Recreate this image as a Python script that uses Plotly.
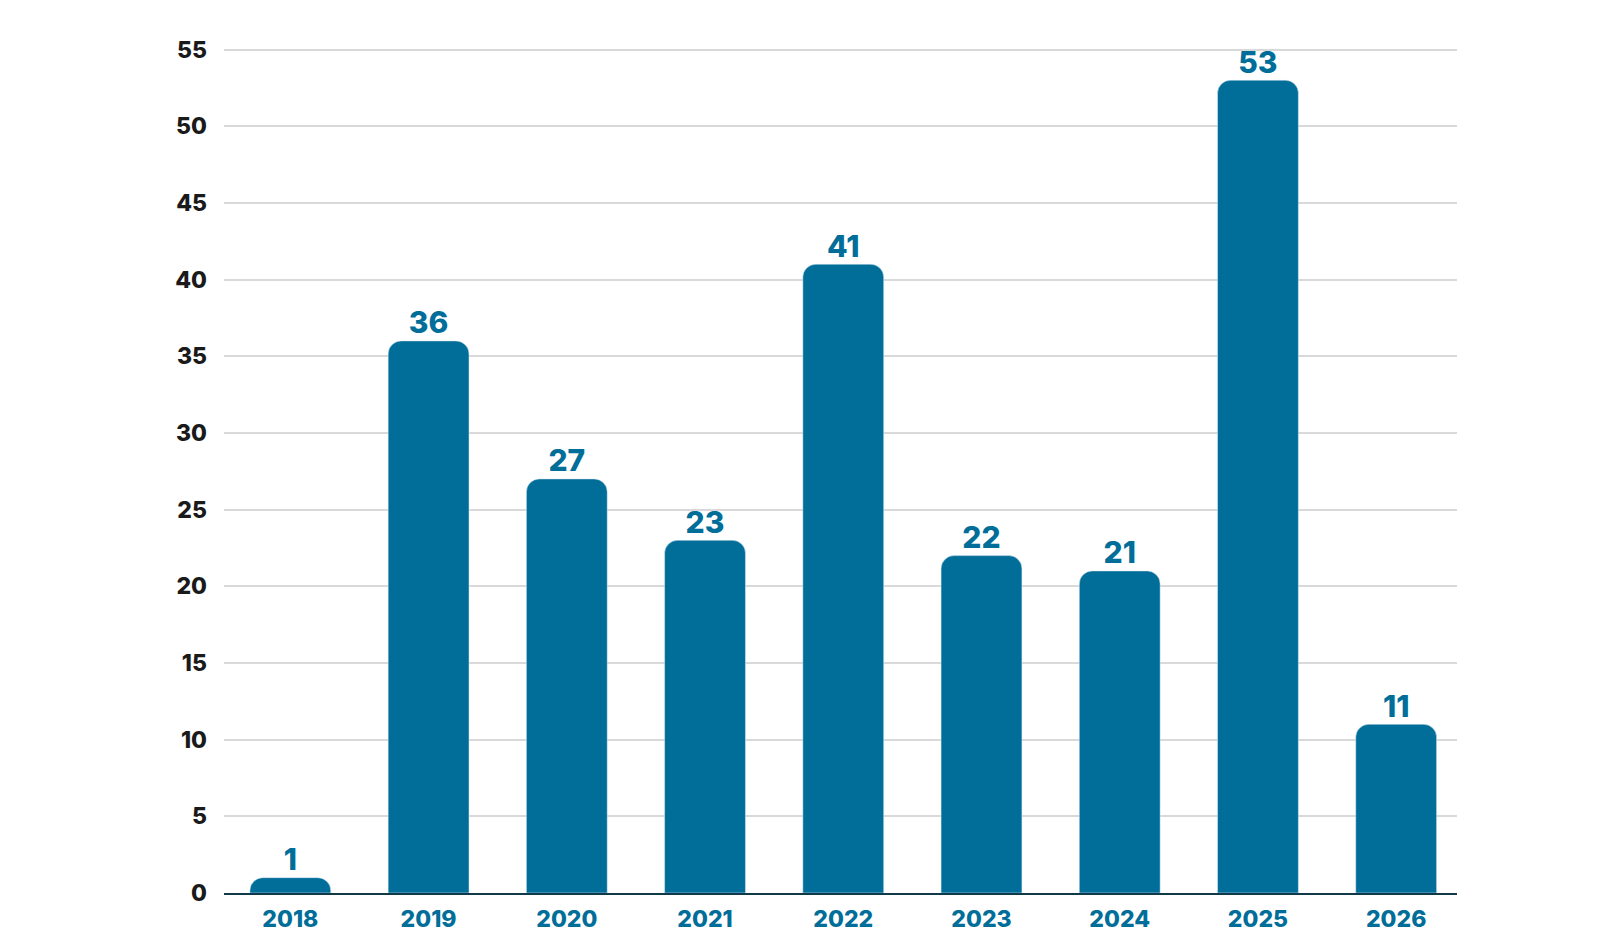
import plotly.graph_objects as go

years = ["2018", "2019", "2020", "2021", "2022", "2023", "2024", "2025", "2026"]
counts = [1, 36, 27, 23, 41, 22, 21, 53, 11]
y_ticks = [0, 5, 10, 15, 20, 25, 30, 35, 40, 45, 50, 55]

BAR = "#006E99"

fig = go.Figure()
fig.add_trace(go.Bar(
    x=years, y=counts, marker_color=BAR,
    cliponaxis=False,
))
fig.add_trace(go.Scatter(
    x=years, y=counts, mode="text", text=[str(v) for v in counts],
    textposition="top center", cliponaxis=False, hoverinfo="skip",
    textfont=dict(family="Inter", size=30, color=BAR, weight=800),
))
fig.update_layout(
    width=1606, height=952,
    margin=dict(l=216, r=157, t=40, b=67),
    plot_bgcolor="white", paper_bgcolor="white",
    bargap=0.415, barcornerradius=13,
    showlegend=False,
)
fig.update_xaxes(
    type="category", range=[-0.48, 8.44],
    showline=True, linecolor="#12394A", linewidth=2,
    tickfont=dict(family="Inter", size=23, color=BAR, weight=800),
    ticks="", ticklabelstandoff=4, showgrid=False,
)
fig.update_yaxes(
    range=[0, 55.1], tickvals=y_ticks,
    gridcolor="#D9D9D9", gridwidth=2, zeroline=False,
    tickfont=dict(family="Inter", size=23, color="#1A1A1A", weight=800),
    ticks="", ticklabelstandoff=16,
)
fig.write_html("out.html")
